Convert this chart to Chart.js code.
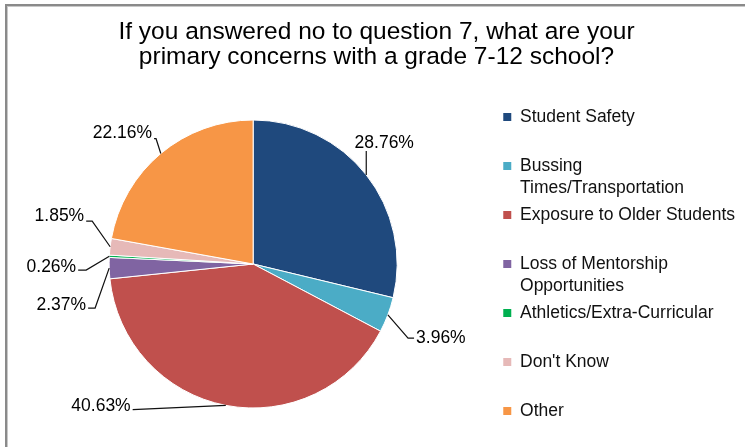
<!DOCTYPE html>
<html>
<head>
<meta charset="utf-8">
<script src="https://cdn.jsdelivr.net/npm/chart.js@4.4.0/dist/chart.umd.min.js"></script>
<style>
  html, body { margin: 0; padding: 0; background: #fff; overflow: hidden; }
  #frame {
    position: absolute; left: 5px; top: 4px; width: 900px; height: 600px;
    border-left: 2px solid #8a8a8a; border-top: 2px solid #8a8a8a;
    box-shadow: inset 1px 1px 0 #c8c8c8;
  }
  #chart { position: absolute; left: 0; top: 0; }
</style>
</head>
<body>
<div id="frame"></div>
<canvas id="chart" width="745" height="447"></canvas>
<script>
var titleLines = ['If you answered no to question 7, what are your',
                  'primary concerns with a grade 7-12 school?'];
var categories = ['Student Safety', 'Bussing Times/Transportation', 'Exposure to Older Students',
                  'Loss of Mentorship Opportunities', 'Athletics/Extra-Curricular', "Don't Know", 'Other'];
// how the legend wraps each category
var legendLines = [['Student Safety'], ['Bussing', 'Times/Transportation'], ['Exposure to Older Students'],
                   ['Loss of Mentorship', 'Opportunities'], ['Athletics/Extra-Curricular'], ["Don't Know"], ['Other']];
var percentages = [28.76, 3.96, 40.63, 2.37, 0.26, 1.85, 22.16];

var sliceColors = ['#1f497d', '#4bacc6', '#c0504d', '#8064a2', '#00b050', '#e6b9b8', '#f79646'];
var FONT = "'Liberation Sans', Arial, sans-serif";

// where each percentage label sits relative to the edge of its slice
var labelPlacement = [
  { dx: 18, dy: -32, side: 'top' },
  { dx: 53, dy: 23.3, side: 'right', elbow: 6, drop: 0 },
  { dx: -124.8, dy: 0.3, side: 'left', elbow: 0, drop: 4 },
  { dx: -47.9, dy: 36.9, side: 'left', elbow: 7, drop: 3 },
  { dx: -58, dy: 10.8, side: 'left', elbow: 8, drop: 3 },
  { dx: -50.8, dy: -30.7, side: 'left', elbow: 6, drop: 5 },
  { dx: -38.4, dy: -20.8, side: 'left', elbow: 2, drop: 6 }
];

var pieLabels = {
  id: 'pieLabels',
  afterDatasetsDraw: function (chart) {
    var ctx = chart.ctx;
    var meta = chart.getDatasetMeta(0);
    ctx.save();
    ctx.font = '17.5px ' + FONT;
    ctx.fillStyle = '#000';
    ctx.strokeStyle = '#111';
    ctx.lineWidth = 1.2;
    ctx.textBaseline = 'middle';
    ctx.textAlign = 'center';
    meta.data.forEach(function (arc, i) {
      var p = arc.getProps(['x', 'y', 'startAngle', 'endAngle', 'outerRadius'], true);
      var mid = (p.startAngle + p.endAngle) / 2;
      var px = p.x + Math.cos(mid) * p.outerRadius;
      var py = p.y + Math.sin(mid) * p.outerRadius;
      var pl = labelPlacement[i];
      var text = percentages[i].toFixed(2) + '%';
      var tx = px + pl.dx, ty = py + pl.dy;
      var w = ctx.measureText(text).width;
      ctx.beginPath();
      ctx.moveTo(px, py);
      if (pl.side === 'top') {
        ctx.lineTo(px, ty + 8);
      } else {
        var ax = pl.side === 'right' ? tx - w / 2 - 2 : tx + w / 2 + 2;
        var ay = ty + pl.drop;
        var ex = pl.side === 'right' ? ax - pl.elbow : ax + pl.elbow;
        ctx.lineTo(ex, ay);
        ctx.lineTo(ax, ay);
      }
      ctx.stroke();
      ctx.fillText(text, tx, ty);
    });
    ctx.restore();
  }
};

new Chart(document.getElementById('chart'), {
  type: 'pie',
  data: {
    labels: categories,
    datasets: [{
      data: percentages,
      backgroundColor: sliceColors,
      borderColor: '#ffffff',
      borderWidth: 1,
      radius: 144
    }]
  },
  options: {
    responsive: false,
    animation: false,
    layout: { padding: { left: 8, right: 0, top: 0, bottom: 19 } },
    plugins: {
      title: {
        display: true,
        text: titleLines,
        color: '#000',
        font: { family: FONT, size: 24.5, weight: 'normal', lineHeight: '25px' },
        padding: { top: 20, bottom: 30 }
      },
      legend: {
        position: 'right',
        align: 'center',
        fullSize: false,
        labels: {
          color: '#111',
          font: { family: FONT, size: 17.5, lineHeight: '22px' },
          boxWidth: 8,
          boxHeight: 8,
          padding: 5,
          generateLabels: function (chart) {
            var items = Chart.overrides.pie.plugins.legend.labels.generateLabels(chart);
            items.forEach(function (item, i) {
              var lines = legendLines[i].slice();
              // every entry but the last takes two lines so the spacing stays even
              if (i < items.length - 1 && lines.length < 2) lines.push('');
              item.text = lines.length > 1 ? lines : lines[0];
              item.lineWidth = 0;
            });
            return items;
          }
        }
      },
      tooltip: { enabled: false }
    }
  },
  plugins: [pieLabels]
});
</script>
</body>
</html>
